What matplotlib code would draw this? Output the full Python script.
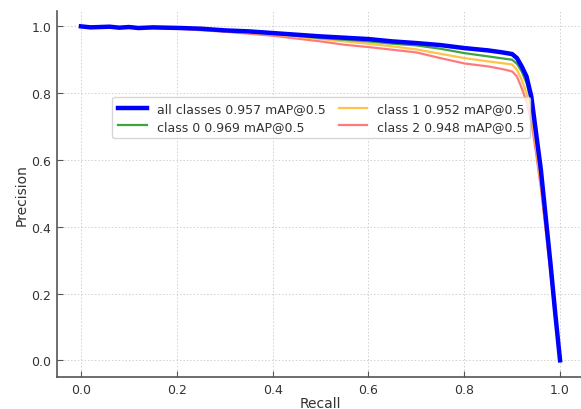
import matplotlib
matplotlib.use("Agg")
import matplotlib.pyplot as plt

# precision-recall curves
recall_all = [0.0, 0.02, 0.04, 0.06, 0.08, 0.10, 0.12, 0.15, 0.18, 0.21, 0.25,
              0.30, 0.35, 0.40, 0.45, 0.50, 0.55, 0.60, 0.65, 0.70, 0.75, 0.80,
              0.85, 0.88, 0.90, 0.91, 0.92, 0.93, 0.94, 0.95, 0.96, 0.97, 0.98,
              0.99, 1.0]
prec_all = [1.0, 0.997, 0.998, 0.999, 0.996, 0.998, 0.995, 0.997, 0.996, 0.995,
            0.993, 0.988, 0.985, 0.980, 0.975, 0.970, 0.966, 0.962, 0.955, 0.950,
            0.944, 0.935, 0.928, 0.922, 0.917, 0.905, 0.880, 0.850, 0.790, 0.680,
            0.570, 0.430, 0.290, 0.140, 0.0]

recall_c0 = [0.0, 0.05, 0.10, 0.20, 0.30, 0.40, 0.45, 0.50, 0.55, 0.60, 0.65,
             0.70, 0.75, 0.80, 0.85, 0.90, 0.91, 0.92, 0.93, 0.94, 0.95, 0.96,
             0.97, 0.98, 0.99, 1.0]
prec_c0 = [1.0, 0.998, 0.997, 0.995, 0.988, 0.979, 0.972, 0.965, 0.960, 0.955,
           0.948, 0.943, 0.933, 0.920, 0.910, 0.900, 0.888, 0.865, 0.830, 0.775,
           0.670, 0.560, 0.420, 0.280, 0.135, 0.0]

recall_c1 = [0.0, 0.05, 0.10, 0.20, 0.30, 0.40, 0.45, 0.50, 0.55, 0.60, 0.65,
             0.70, 0.75, 0.80, 0.85, 0.90, 0.91, 0.92, 0.93, 0.94, 0.95, 0.96,
             0.97, 0.98, 0.99, 1.0]
prec_c1 = [1.0, 0.998, 0.997, 0.994, 0.986, 0.976, 0.969, 0.962, 0.955, 0.948,
           0.940, 0.931, 0.918, 0.905, 0.895, 0.886, 0.870, 0.840, 0.800, 0.740,
           0.640, 0.530, 0.400, 0.270, 0.130, 0.0]

recall_c2 = [0.0, 0.05, 0.10, 0.20, 0.30, 0.40, 0.50, 0.55, 0.60, 0.65, 0.70,
             0.75, 0.80, 0.85, 0.88, 0.90, 0.91, 0.92, 0.93, 0.94, 0.95, 0.96,
             0.97, 0.98, 0.99, 1.0]
prec_c2 = [1.0, 0.998, 0.996, 0.993, 0.984, 0.972, 0.955, 0.945, 0.938, 0.930,
           0.922, 0.905, 0.889, 0.880, 0.872, 0.865, 0.850, 0.815, 0.775, 0.715,
           0.620, 0.515, 0.390, 0.260, 0.125, 0.0]

labels = ["all classes 0.957 mAP@0.5", "class 0 0.969 mAP@0.5",
          "class 1 0.952 mAP@0.5", "class 2 0.948 mAP@0.5"]

fig = plt.figure(figsize=(5.81, 4.10), dpi=100)
ax = fig.add_axes([57 / 581, 32 / 410, 527 / 581, 366 / 410])

h2, = ax.plot(recall_c2, prec_c2, color="#ff7b7b", lw=1.6, zorder=2)
h1, = ax.plot(recall_c1, prec_c1, color="#ffc24a", lw=1.6, zorder=3)
h0, = ax.plot(recall_c0, prec_c0, color="#3fa33f", lw=1.6, zorder=4)
ha, = ax.plot(recall_all, prec_all, color="#0000ff", lw=3.2, zorder=5)

ax.set_xlim(-0.05, 1.05)
ax.set_ylim(-0.05, 1.046)
ax.set_xticks([0.0, 0.2, 0.4, 0.6, 0.8, 1.0])
ax.set_yticks([0.0, 0.2, 0.4, 0.6, 0.8, 1.0])
ax.grid(True, linestyle=(0, (1.5, 2)), color="#d0d0d0", lw=0.7)
ax.tick_params(direction="in", length=4, colors="#555555", labelcolor="#333333",
               labelsize=9, pad=4)
for s in ["top", "right"]:
    ax.spines[s].set_visible(False)
for s in ["left", "bottom"]:
    ax.spines[s].set_color("#555555")
    ax.spines[s].set_linewidth(1.2)

ax.set_xlabel("Recall", fontsize=10, color="#333333", labelpad=0)
ax.set_ylabel("Precision", fontsize=10, color="#333333", labelpad=2)

ax.legend([ha, h0, h1, h2], labels, ncol=2, loc="upper left",
          bbox_to_anchor=(0.093, 0.783), fontsize=9, frameon=True,
          edgecolor="#cccccc", columnspacing=1.05, handlelength=2.3,
          borderpad=0.45, labelspacing=0.35, labelcolor="#333333")

fig.savefig("out.png", dpi=100)
